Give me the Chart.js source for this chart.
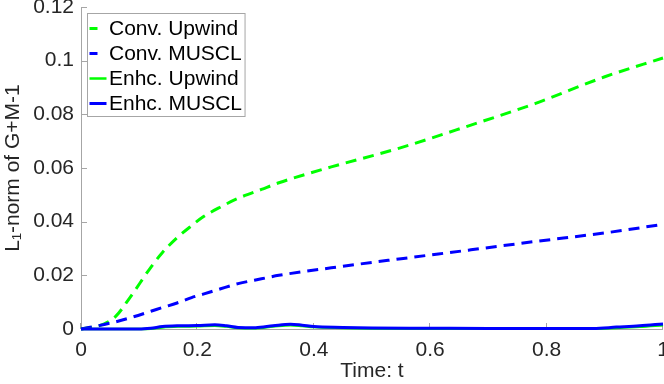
<!DOCTYPE html>
<html>
<head>
<meta charset="utf-8">
<script src="https://cdn.jsdelivr.net/npm/chart.js@4.4.1/dist/chart.umd.min.js"></script>
<style>
  html, body { margin: 0; padding: 0; background: #ffffff; }
  #wrap { width: 664px; height: 384px; position: relative; }
</style>
</head>
<body>
<div id="wrap"><canvas id="c" width="664" height="384"></canvas></div>
<script>
// ---- data ----
const seriesNames = ["Conv. Upwind", "Conv. MUSCL", "Enhc. Upwind", "Enhc. MUSCL"];

const tConv = [0, 0.04, 0.06, 0.085, 0.12, 0.14, 0.165, 0.19, 0.21, 0.24, 0.27, 0.31, 0.34, 0.43, 0.55, 0.67, 0.78, 0.90, 1.0];
const convUpwind = [0, 0.0019, 0.0048, 0.012, 0.023, 0.0285, 0.034, 0.0385, 0.0418, 0.0455, 0.0487, 0.052, 0.0545, 0.0604, 0.0676, 0.076, 0.084, 0.094, 0.101];
const convMuscl = [0, 0.0017, 0.0027, 0.0042, 0.0066, 0.008, 0.0097, 0.0117, 0.013, 0.015, 0.0169, 0.0187, 0.02, 0.0228, 0.0262, 0.0295, 0.0326, 0.0358, 0.039];

const tEnh = [0, 0.05, 0.1, 0.12, 0.14, 0.17, 0.2, 0.23, 0.25, 0.27, 0.3, 0.33, 0.36, 0.38, 0.4, 0.45, 0.5, 0.6, 0.7, 0.8, 0.88, 0.92, 0.96, 1.0];
const enhUpwind = [0, 0, 0, 0.0001, 0.0006, 0.0009, 0.001, 0.0012, 0.0009, 0.0004, 0.0003, 0.0009, 0.0014, 0.0011, 0.0007, 0.0004, 0.0002, 0.0001, 0.0001, 0.0001, 0.0001, 0.0004, 0.0008, 0.0014];
const enhMuscl = [0, 0, 0, 0.0003, 0.0009, 0.0012, 0.0013, 0.0016, 0.0012, 0.0006, 0.0005, 0.0012, 0.0018, 0.0014, 0.0009, 0.0006, 0.0004, 0.0003, 0.0002, 0.0002, 0.0002, 0.0007, 0.0012, 0.0019];

const xTicks = [0, 0.2, 0.4, 0.6, 0.8, 1];
const xTickLabels = ["0", "0.2", "0.4", "0.6", "0.8", "1"];
const yTicks = [0, 0.02, 0.04, 0.06, 0.08, 0.1, 0.12];
const yTickLabels = ["0", "0.02", "0.04", "0.06", "0.08", "0.1", "0.12"];

const xTitle = "Time: t";
const yTitle = "L\u2081-norm of G+M-1";

// ---- style ----
const GREEN = "#00ff00";
const BLUE = "#0000ff";
const TXT = "#262626";
const AXIS = "#a6a6a6";
const FONT = "'Liberation Sans', Arial, Helvetica, sans-serif";
const FS = 21;

function pts(ts, vs) { return ts.map((t, i) => ({ x: t, y: vs[i] })); }

const datasets = [
  { label: seriesNames[0], data: pts(tConv, convUpwind), borderColor: GREEN, borderWidth: 3, borderDash: [11, 7], order: 4 },
  { label: seriesNames[1], data: pts(tConv, convMuscl), borderColor: BLUE, borderWidth: 3, borderDash: [11, 7], order: 3 },
  { label: seriesNames[2], data: pts(tEnh, enhUpwind), borderColor: GREEN, borderWidth: 2.5, order: 2 },
  { label: seriesNames[3], data: pts(tEnh, enhMuscl), borderColor: BLUE, borderWidth: 3, order: 1 }
].map(d => Object.assign({ pointRadius: 0, fill: false, cubicInterpolationMode: 'monotone', clip: 6, borderCapStyle: 'butt' }, d));

// axis lines with inward ticks + framed legend
const matlabPlugin = {
  id: 'matlab',
  beforeDatasetsDraw(chart) {
    const { ctx, chartArea: a, scales } = chart;
    ctx.save();
    ctx.strokeStyle = AXIS;
    ctx.lineWidth = 1;
    ctx.beginPath();
    ctx.moveTo(a.left + 0.5, a.top);
    ctx.lineTo(a.left + 0.5, a.bottom + 0.5);
    ctx.lineTo(a.right, a.bottom + 0.5);
    yTicks.forEach(v => {
      const y = Math.round(scales.y.getPixelForValue(v)) + 0.5;
      ctx.moveTo(a.left, y); ctx.lineTo(a.left + 6, y);
    });
    xTicks.forEach(v => {
      const x = Math.round(scales.x.getPixelForValue(v)) - 0.5;
      ctx.moveTo(x, a.bottom); ctx.lineTo(x, a.bottom - 6);
    });
    ctx.stroke();
    ctx.restore();
  },
  afterDatasetsDraw(chart) {
    const { ctx, chartArea: a } = chart;
    const ds = chart.data.datasets;
    ctx.save();
    ctx.font = FS + "px " + FONT;
    const textX = a.left + 28;
    let maxW = 0;
    ds.forEach(d => { maxW = Math.max(maxW, ctx.measureText(d.label).width); });
    const bx = a.left + 6.5, by = a.top + 6.5;
    const bw = textX + maxW + 3 - bx, bh = 103;
    ctx.fillStyle = "#ffffff";
    ctx.fillRect(bx, by, bw, bh);
    ctx.strokeStyle = AXIS;
    ctx.lineWidth = 1;
    ctx.strokeRect(bx, by, bw, bh);
    ds.forEach((d, i) => {
      const y = by + 15 + i * 25;
      ctx.strokeStyle = d.borderColor;
      ctx.lineWidth = d.borderWidth;
      ctx.setLineDash([]);
      ctx.beginPath();
      if (d.borderDash) { ctx.moveTo(bx + 2, y); ctx.lineTo(bx + 10, y); }
      else { ctx.moveTo(bx + 2, y); ctx.lineTo(bx + 19, y); }
      ctx.stroke();
      ctx.fillStyle = "#000000";
      ctx.textBaseline = "middle";
      ctx.textAlign = "left";
      ctx.fillText(d.label, textX, y + 1);
    });
    ctx.restore();
  }
};

new Chart(document.getElementById('c'), {
  type: 'line',
  data: { datasets },
  plugins: [matlabPlugin],
  options: {
    responsive: false,
    animation: false,
    devicePixelRatio: 1,
    layout: { autoPadding: false, padding: { top: 7, right: 1, left: 0, bottom: 0 } },
    plugins: { legend: { display: false }, tooltip: { enabled: false } },
    scales: {
      x: {
        type: 'linear', min: 0, max: 1,
        afterBuildTicks: s => { s.ticks = xTicks.map(v => ({ value: v })); },
        afterFit: s => { s.height = 55; s.paddingLeft = 0; s.paddingRight = 0; },
        grid: { display: false, drawTicks: false },
        border: { display: false },
        ticks: { color: TXT, font: { family: FONT, size: FS }, padding: 9, maxRotation: 0,
                 callback: (v, i) => xTickLabels[i] },
        title: { display: true, text: xTitle, color: TXT, font: { family: FONT, size: FS }, padding: { top: 0, bottom: 0 } }
      },
      y: {
        type: 'linear', min: 0, max: 0.12,
        afterBuildTicks: s => { s.ticks = yTicks.map(v => ({ value: v })); },
        afterFit: s => { s.width = 81; s.paddingTop = 0; s.paddingBottom = 0; },
        grid: { display: false, drawTicks: false },
        border: { display: false },
        ticks: { color: TXT, font: { family: FONT, size: FS }, padding: 7,
                 callback: (v, i) => yTickLabels[i] },
        title: { display: true, text: yTitle, color: TXT, font: { family: FONT, size: FS }, padding: { top: 1, bottom: 0 } }
      }
    }
  }
});
</script>
</body>
</html>
